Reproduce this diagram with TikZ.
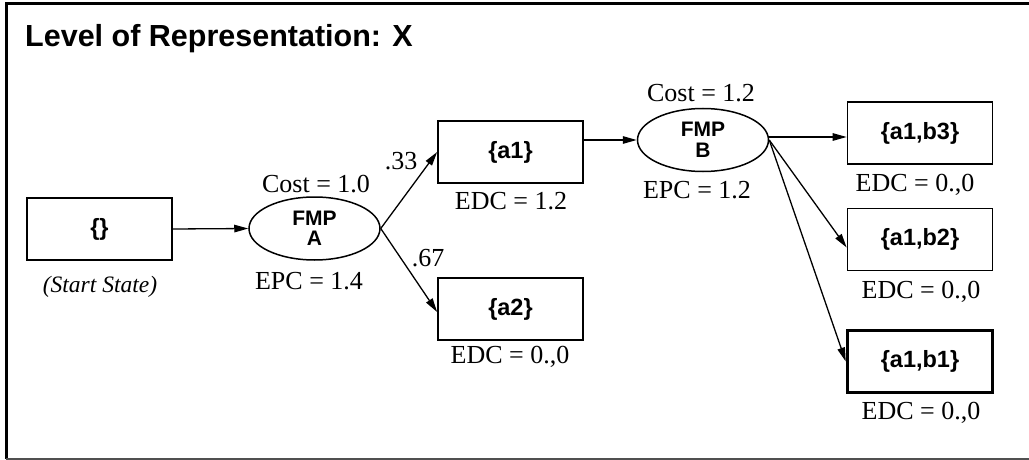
\documentclass[tikz,border=0pt]{standalone}
\usepackage{fontspec}
\setmainfont{Liberation Serif}
\setsansfont{Liberation Sans}
\usepackage{tikz}
\usetikzlibrary{shapes.geometric, arrows.meta, positioning, calc}
\definecolor{framegray}{HTML}{505050}

\begin{document}
\begin{tikzpicture}[
  x=1pt, y=-1pt,
  statebox/.style={rectangle, draw, line width=1.7pt, minimum width=145pt, minimum height=62pt, inner sep=0pt, font=\sffamily\bfseries\fontsize{23.5}{26}\selectfont},
  goalbox/.style={statebox, line width=3.5pt},
  fmpnode/.style={ellipse, draw, line width=1.5pt, minimum width=131pt, minimum height=63pt, inner sep=0pt, align=center, font=\sffamily\bfseries\fontsize{21}{20.5}\selectfont},
  costlabel/.style={inner sep=0pt, font=\fontsize{26}{28}\selectfont},
  arr/.style={-{Triangle[length=14pt,width=7.5pt]}, line width=1.3pt}
]
  \useasboundingbox (0,0) rectangle (1029,460);
  \draw[line width=3pt] (1029,4) -- (6,4) -- (6,459);
  \draw[framegray, line width=1.4pt] (6,459) -- (1029,459);
  \node[anchor=base west, inner sep=0pt, font=\sffamily\bfseries\fontsize{30.5}{32}\selectfont] (title) at (25,46.7) {Level of Representation: X};

  \node[statebox] (start) at (99.5,229) {\{\}};
  \node[costlabel, font=\itshape\fontsize{23.5}{26}\selectfont] (startlbl) at (100,287) {(Start State)};

  \node[fmpnode] (A) at (314.5,228.5) {FMP\\A};
  \node[costlabel] (costA) at (316,184) {Cost = 1.0};
  \node[costlabel] (epcA) at (309,281) {EPC = 1.4};

  \node[statebox] (a1) at (510.5,152) {\{a1\}};
  \node[costlabel] (edca1) at (511,201) {EDC = 1.2};
  \node[statebox] (a2) at (510.5,309) {\{a2\}};
  \node[costlabel] (edca2) at (510,357) {EDC = 0.,0};
  \node[costlabel] (p33) at (401,161) {.33};
  \node[costlabel] (p67) at (428,258) {.67};

  \node[fmpnode] (B) at (703,140) {FMP\\B};
  \node[costlabel] (costB) at (701,93) {Cost = 1.2};
  \node[costlabel] (epcB) at (697,190) {EPC = 1.2};

  \node[statebox] (b3) at (920,133) {\{a1,b3\}};
  \node[costlabel] (edcb3) at (915,185) {EDC = 0.,0};
  \node[statebox] (b2) at (920,239.5) {\{a1,b2\}};
  \node[costlabel] (edcb2) at (921,292) {EDC = 0.,0};
  \node[goalbox] (b1) at (920,361.5) {\{a1,b1\}};
  \node[costlabel] (edcb1) at (921,413) {EDC = 0.,0};

  \draw[arr] (start.east) -- (A.west);
  \draw[arr] (A.east) -- (a1.west);
  \draw[arr] (A.east) -- ([yshift=-3pt]a2.west);
  \draw[arr] (a1.east |- B.west) -- (B.west);
  \draw[arr] ([yshift=3pt]B.east) -- ([yshift=3pt]B.east -| b3.west);
  \draw[arr] (B.east) -- ([yshift=-8pt]b2.west);
  \draw[arr] (B.east) -- (b1.west);
\end{tikzpicture}
\end{document}
